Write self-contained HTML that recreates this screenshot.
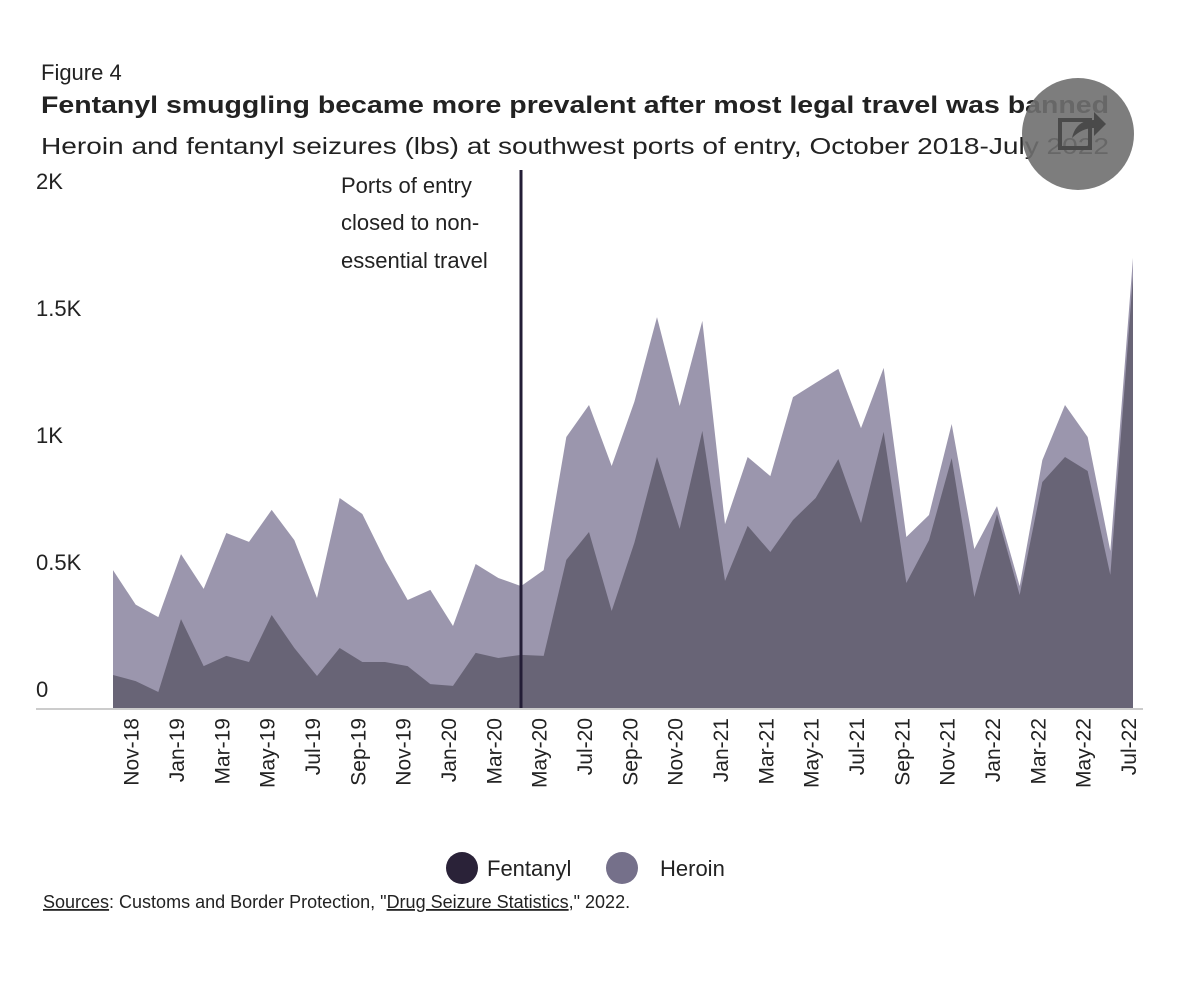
<!DOCTYPE html>
<html><head><meta charset="utf-8"><style>
body{margin:0;background:#fff;}
svg{display:block;font-family:"Liberation Sans",sans-serif;}
</style></head><body>
<svg width="1200" height="995" viewBox="0 0 1200 995">
<text x="41" y="80" font-size="22" fill="#222">Figure 4</text>
<text x="41" y="113" font-size="24" font-weight="bold" fill="#222" textLength="1068" lengthAdjust="spacingAndGlyphs">Fentanyl smuggling became more prevalent after most legal travel was banned</text>
<text x="41" y="154" font-size="23" fill="#222" textLength="1068" lengthAdjust="spacingAndGlyphs">Heroin and fentanyl seizures (lbs) at southwest ports of entry, October 2018-July 2022</text>
<g id="yaxis"></g>
<g id="areas"></g>
<line x1="36" y1="709" x2="1143" y2="709" stroke="#ccc" stroke-width="2"/>
<g id="xaxis"></g>
<g>
<text x="341" y="193" font-size="22" fill="#222">Ports of entry</text>
<text x="341" y="230" font-size="22" fill="#222">closed to non-</text>
<text x="341" y="268" font-size="22" fill="#222">essential travel</text>
</g>
<g>
<circle cx="462" cy="868" r="16" fill="#2a2238"/>
<text x="487" y="876" font-size="22" fill="#222">Fentanyl</text>
<circle cx="622" cy="868" r="16" fill="#75708a"/>
<text x="660" y="876" font-size="22" fill="#222">Heroin</text>
</g>
<text x="43" y="908" font-size="18" fill="#222"><tspan text-decoration="underline">Sources</tspan>: Customs and Border Protection, "<tspan text-decoration="underline">Drug Seizure Statistics</tspan>," 2022.</text>
<g>
<circle cx="1078" cy="134" r="56" fill="#6f6f6f" fill-opacity="0.9"/>
<rect x="1060" y="120" width="30" height="28" fill="none" stroke="#4a4a4a" stroke-width="4"/>
<path d="M1072 138 Q1076 120 1094 120 L1094 112 L1106 124 L1094 136 L1094 128 Q1082 128 1072 138Z" fill="#4a4a4a"/>
</g>
</svg>
<script>
const months=["Oct-18","Nov-18","Dec-18","Jan-19","Feb-19","Mar-19","Apr-19","May-19","Jun-19","Jul-19","Aug-19","Sep-19","Oct-19","Nov-19","Dec-19","Jan-20","Feb-20","Mar-20","Apr-20","May-20","Jun-20","Jul-20","Aug-20","Sep-20","Oct-20","Nov-20","Dec-20","Jan-21","Feb-21","Mar-21","Apr-21","May-21","Jun-21","Jul-21","Aug-21","Sep-21","Oct-21","Nov-21","Dec-21","Jan-22","Feb-22","Mar-22","Apr-22","May-22","Jun-22","Jul-22"];
const fentanyl=[130,106,63,350,165,205,181,366,236,126,236,181,181,165,94,87,217,197,209,205,583,693,382,650,988,705,1091,500,717,614,740,827,980,728,1087,492,661,984,437,764,445,890,988,933,524,1700];
const heroin=[413,301,295,256,304,484,473,414,425,307,591,583,402,260,371,236,350,315,271,338,484,500,571,555,551,484,433,224,271,299,484,453,355,374,252,181,99,134,189,31,35,86,205,134,94,72];
const yTicks=[0,500,1000,1500,2000];
const yTickLabels=["0","0.5K","1K","1.5K","2K"];
const closureMonth="Apr-20";
const NS="http://www.w3.org/2000/svg";
const x0=113,x1=1133,yBase=708,yPer=0.254;
function xs(i){return x0+(x1-x0)*i/(months.length-1);}
function ys(v){return yBase-v*yPer;}
function mk(t,a,p){const e=document.createElementNS(NS,t);for(const k in a)e.setAttribute(k,a[k]);p.appendChild(e);return e;}
const areas=document.getElementById('areas');
const totals=fentanyl.map((f,i)=>f+heroin[i]);
function areaPath(vals){let d="M"+xs(0)+","+yBase;vals.forEach((v,i)=>{d+=" L"+xs(i)+","+ys(v);});d+=" L"+xs(vals.length-1)+","+yBase+"Z";return d;}
const hp=mk('path',{d:areaPath(totals),fill:'#9b96ad'},areas);


const fp=mk('path',{d:areaPath(fentanyl),fill:'#686476'},areas);


const ci=months.indexOf(closureMonth);
const vl=mk('line',{x1:xs(ci),x2:xs(ci),y1:170,y2:709,stroke:'#231d36','stroke-width':3},areas);


const ya=document.getElementById('yaxis');
yTicks.forEach((v,k)=>{const t=mk('text',{x:36,y:ys(v)-11,'font-size':22,fill:'#222'},ya);t.textContent=yTickLabels[k];

});
const xa=document.getElementById('xaxis');
months.forEach((m,i)=>{if(i%2===0)return;const x=xs(i)+3,y=718;const t=mk('text',{x:x,y:y,'font-size':21,fill:'#222','text-anchor':'end',transform:`rotate(-90 ${x} ${y})`},xa);t.textContent=m;

});
</script>
</body></html>
